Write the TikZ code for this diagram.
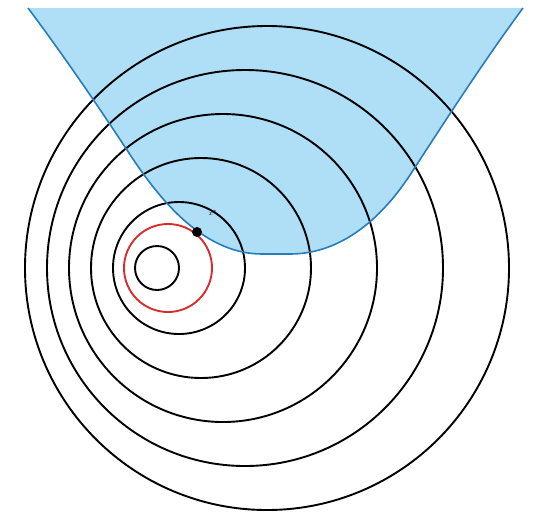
\documentclass[tikz,border=0pt]{standalone}
\definecolor{fillblue}{RGB}{174,223,246}
\definecolor{lineblue}{RGB}{40,125,185}
\definecolor{ringred}{RGB}{215,45,45}
\tikzset{
  ring/.style={line width=1.9pt, black},
  redring/.style={line width=1.9pt, ringred},
  boundary/.style={line width=1.6pt, lineblue},
}
\def\regionpath{(28,8) .. controls (61,52) and (94,100) .. (127,150)
  .. controls (155,193) and (200,254) .. (262,254) -- (290,254)
  .. controls (345,254) and (385,213) .. (410,175)
  .. controls (447,118) and (486,58) .. (523,8)}
\begin{document}
\begin{tikzpicture}[x=1pt,y=-1pt]
\useasboundingbox (0,0) rectangle (534,512);
% feasible region
\fill[fillblue] \regionpath -- cycle;
% level sets
\foreach \r in {22,66,110,154,198,242}
  \draw[ring] ({146+\r/2},268) circle[radius=\r];
\draw[redring] (168,268) circle[radius=44];
% boundary
\draw[boundary] \regionpath;
% optimum
\coordinate (opt) at (197,232);
\fill (opt) circle[radius=5];
\node[font=\fontsize{7}{8}\selectfont, inner sep=0pt] (lbl) at (213,213) {$x^{*}$};
\end{tikzpicture}
\end{document}
